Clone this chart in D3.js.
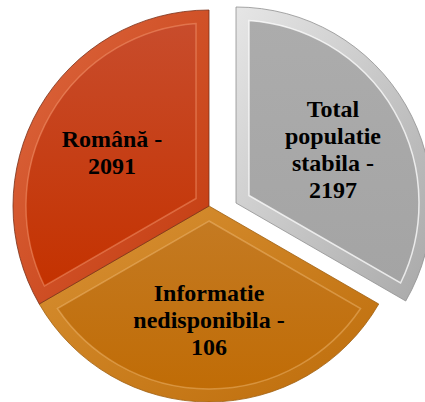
<!DOCTYPE html>
<html>
<head>
<meta charset="utf-8">
<script src="https://cdn.jsdelivr.net/npm/d3@7"></script>
<style>
  body { margin: 0; background: #fff; }
  .sliceLabel { font-family: "Liberation Serif", Tinos, "Times New Roman", Times, "DejaVu Serif", serif; font-weight: 700; font-size: 24px; fill: #000; }
</style>
</head>
<body>
<div id="piechart"></div>
<script>
// slices in drawing order, clockwise from 12 o'clock
const categories = ["Total populatie stabila", "Informatie nedisponibila", "Română"];
const values = [2197, 106, 2091];
// the picture draws the three slices as equal thirds, not by value
const sliceShare = [1, 1, 1];

const width = 425, height = 402;
const cx = 209, cy = 206, radius = 196, bevel = 13;
const explode = {dx: 27, dy: -3}; // only the grey slice is pulled out

const palette = {
    "Total populatie stabila": {band: ["#e6e6e6", "#a8a8a8"], face: ["#acacac", "#a4a4a4"], rim: "#909090", hi: "rgba(255,255,255,0.75)"},
    "Informatie nedisponibila": {band: ["#d99235", "#bd6c0a"], face: ["#c47a22", "#c06c06"], rim: "#a06010", hi: "rgba(255,210,150,0.35)"},
    "Română": {band: ["#de6840", "#c23a0e"], face: ["#c84c2c", "#c43200"], rim: "#7a3018", hi: "rgba(255,170,130,0.4)"}
};

const slices = categories.map(function(name, i) {
    return {name: name, value: values[i], share: sliceShare[i]};
});

const pie = d3.pie().sort(null).value(function(d) { return d.share; });
const arcs = pie(slices);

const outerArc = d3.arc().innerRadius(0).outerRadius(radius);
const labelArc = d3.arc().innerRadius(112).outerRadius(112);

const svg = d3.select("#piechart").append("svg")
    .attr("width", width)
    .attr("height", height);

const defs = svg.append("defs");

arcs.forEach(function(d, i) {
    let p = palette[d.data.name];
    let g1 = defs.append("linearGradient").attr("id", "band" + i)
        .attr("x1", "0%").attr("y1", "0%").attr("x2", "100%").attr("y2", "100%");
    g1.append("stop").attr("offset", "0%").attr("stop-color", p.band[0]);
    g1.append("stop").attr("offset", "100%").attr("stop-color", p.band[1]);
    let g2 = defs.append("linearGradient").attr("id", "face" + i)
        .attr("x1", "0%").attr("y1", "0%").attr("x2", "0%").attr("y2", "100%");
    g2.append("stop").attr("offset", "0%").attr("stop-color", p.face[0]);
    g2.append("stop").attr("offset", "100%").attr("stop-color", p.face[1]);
});

// inner face of a wedge, every edge pulled in by b
function insetWedge(d, r, b) {
    let half = (d.endAngle - d.startAngle) / 2,
        mid = d.startAngle + half,
        k = b / Math.sin(half),
        delta = Math.asin(b / (r - b)),
        p = d3.path();
    p.moveTo(Math.sin(mid) * k, -Math.cos(mid) * k);
    p.lineTo(Math.sin(d.startAngle + delta) * (r - b), -Math.cos(d.startAngle + delta) * (r - b));
    p.arc(0, 0, r - b, d.startAngle + delta - Math.PI / 2, d.endAngle - delta - Math.PI / 2);
    p.closePath();
    return p.toString();
}

const sliceG = svg.selectAll(".slice")
    .data(arcs)
    .enter()
    .append("g")
    .attr("class", "slice")
    .attr("transform", function(d) {
        let x = cx, y = cy;
        if (d.data.name === "Total populatie stabila") { x += explode.dx; y += explode.dy; }
        return "translate(" + x + "," + y + ")";
    });

sliceG.append("path")
    .attr("d", outerArc)
    .attr("fill", function(d, i) { return "url(#band" + i + ")"; })
    .attr("stroke", function(d) { return palette[d.data.name].rim; })
    .attr("stroke-width", 0.8);

sliceG.append("path")
    .attr("d", function(d) { return insetWedge(d, radius, bevel); })
    .attr("fill", function(d, i) { return "url(#face" + i + ")"; })
    .attr("stroke", function(d) { return palette[d.data.name].hi; })
    .attr("stroke-width", 1.5);

// each word on its own line, the dash stays with the last word, the value goes below
sliceG.each(function(d) {
    let words = d.data.name.split(" ");
    words[words.length - 1] += " -";
    let lines = words.concat([String(d.data.value)]);
    let c = labelArc.centroid(d);
    let lineH = 27;
    let text = d3.select(this).append("text")
        .attr("class", "sliceLabel")
        .attr("text-anchor", "middle");
    lines.forEach(function(line, j) {
        text.append("tspan")
            .attr("x", c[0])
            .attr("y", c[1] - (lines.length - 1) * lineH / 2 + 10 + j * lineH)
            .text(line);
    });
});
</script>
</body>
</html>
